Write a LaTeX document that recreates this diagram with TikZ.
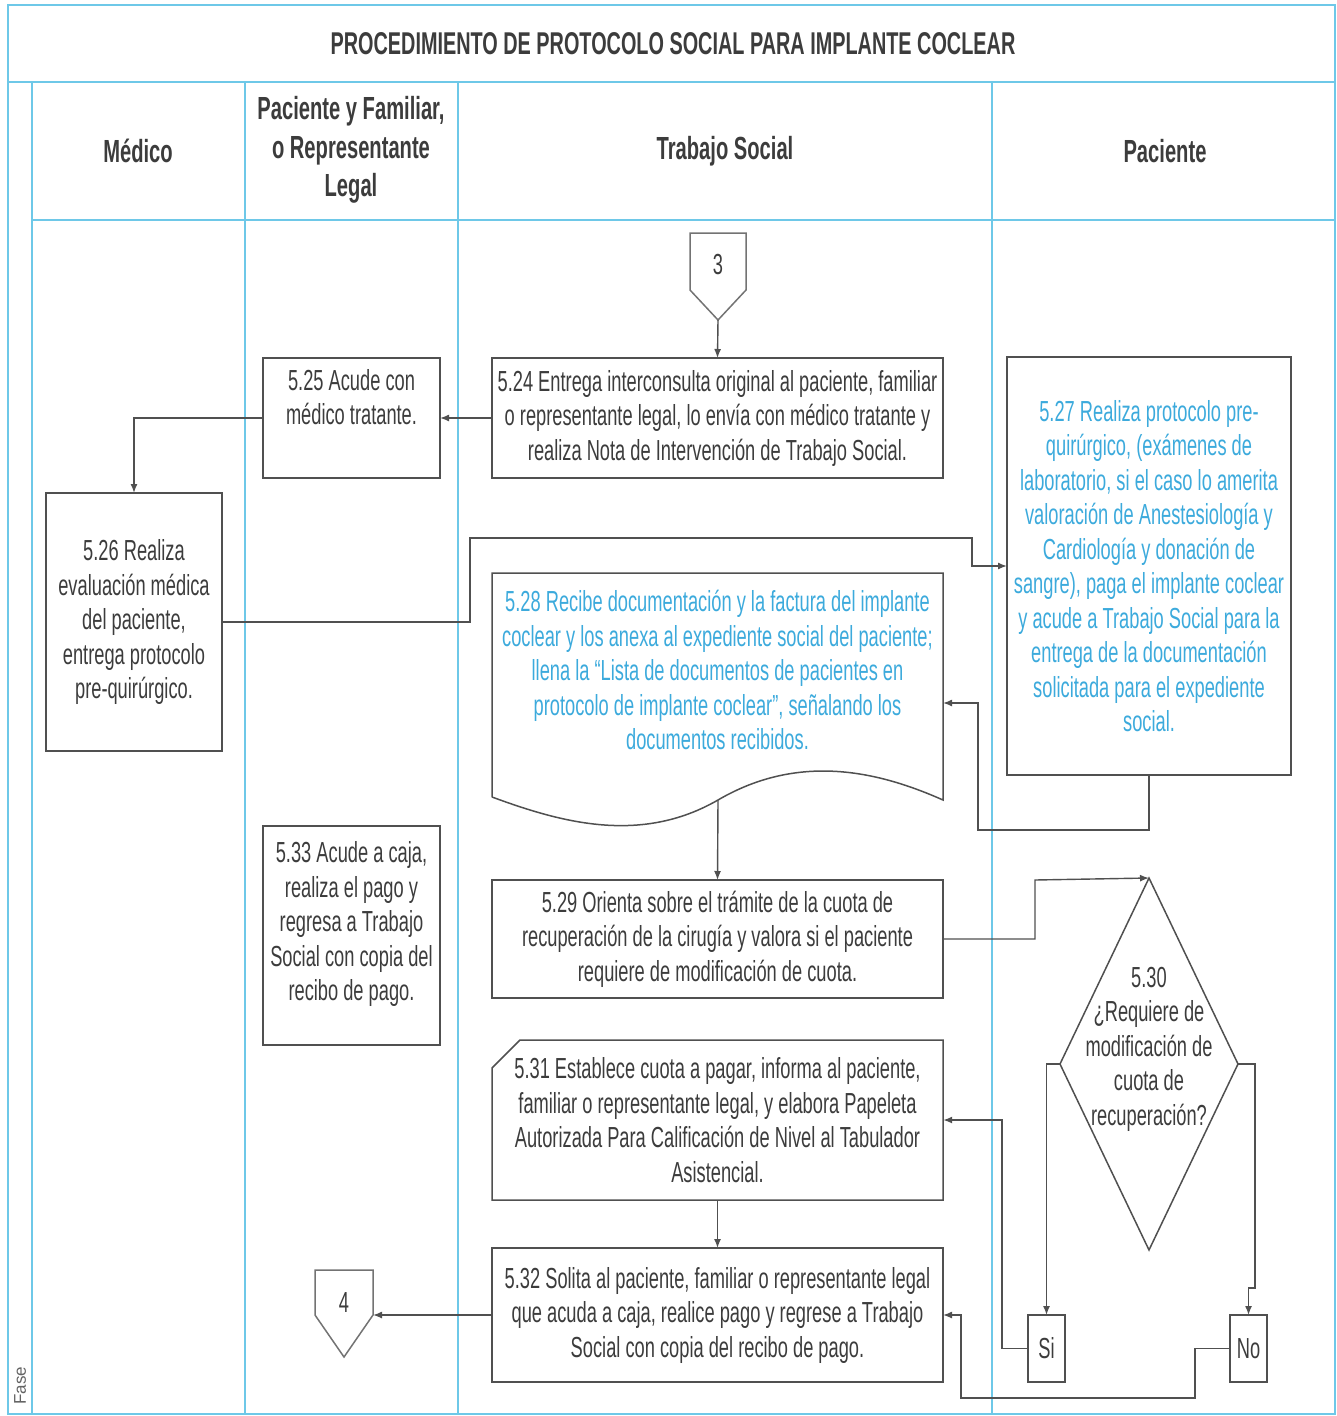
\documentclass[tikz,border=0pt]{standalone}
\usepackage{fontspec}
\setmainfont[FakeStretch=0.63]{Liberation Sans}
\newfontfamily\fasefont{Liberation Sans}
\usetikzlibrary{arrows.meta}
\definecolor{lane}{RGB}{110,200,232}
\definecolor{txt}{RGB}{60,60,60}
\definecolor{btxt}{RGB}{60,170,220}
\definecolor{edge}{RGB}{80,80,80}
\begin{document}
\begin{tikzpicture}[x=1pt,y=-1pt,
  lanel/.style={draw=lane,line width=1.3pt},
  box/.style={draw=edge,line width=1.5pt,rectangle,inner sep=0pt,outer sep=0pt,align=center,text=txt,font=\fontsize{29}{34.5}\selectfont},
  bbox/.style={box,text=btxt},
  shp/.style={draw=edge,line width=1.5pt},
  lbl/.style={inner sep=0pt,align=center,text=txt,font=\fontsize{29}{34.5}\selectfont},
  hdr/.style={inner sep=0pt,align=center,text=txt,font=\bfseries\fontsize{32}{38.5}\selectfont},
  arr/.style={draw=edge,line width=1.4pt,-{Latex[length=9pt,width=7pt]}},
  ln/.style={draw=edge,line width=1.4pt}]
\useasboundingbox (0,0) rectangle (1337,1416);
% frame and lanes
\draw[lanel] (8,5) -- (1335,5) -- (1335,1414) -- (8,1414) -- cycle;
\draw[lanel] (8,82) -- (1335,82);
\draw[lanel] (32,220) -- (1335,220);
\draw[lanel] (32,82) -- (32,1414);
\draw[lanel] (245,82) -- (245,1414);
\draw[lanel] (458,82) -- (458,1414);
\draw[lanel] (992,82) -- (992,1414);
\node[hdr,font=\bfseries\fontsize{31.5}{38}\selectfont] (title) at (673,44) {PROCEDIMIENTO DE PROTOCOLO SOCIAL PARA IMPLANTE COCLEAR};
\node[hdr] (hmed) at (138,151) {Médico};
\node[hdr] (hpf) at (351,150) {Paciente y Familiar,\\o Representante\\Legal};
\node[hdr] (hts) at (725,151) {Trabajo Social};
\node[hdr] (hpac) at (1165,151) {Paciente};
\node[inner sep=0pt,rotate=90,anchor=west,text=txt!80,font=\fasefont\fontsize{17}{20}\selectfont] (fase) at (20,1405) {Fase};

% connector 3
\draw[shp,draw=edge!80] (690,233) -- (746,233) -- (746,290) -- (718,320) -- (690,290) -- cycle;
\node[lbl] (c3) at (718,265) {3};
\coordinate (c3b) at (718,320);

% boxes
\node[box,minimum width=451,minimum height=120] (n524) at (717.5,418) {5.24 Entrega interconsulta original al paciente, familiar\\o representante legal, lo envía con médico tratante y\\realiza Nota de Intervención de Trabajo Social.};
\node[box,minimum width=177,minimum height=120] (n525) at (351.5,418) {};
\node[lbl] (t525) at (351.5,397) {5.25 Acude con\\médico tratante.};
\node[box,minimum width=176,minimum height=258] (n526) at (134,622) {5.26 Realiza\\evaluación médica\\del paciente,\\entrega protocolo\\pre-quirúrgico.};
\node[bbox,minimum width=284,minimum height=418] (n527) at (1149,566) {5.27 Realiza protocolo pre-\\quirúrgico, (exámenes de\\laboratorio, si el caso lo amerita\\valoración de Anestesiología y\\Cardiología y donación de\\sangre), paga el implante coclear\\y acude a Trabajo Social para la\\entrega de la documentación\\solicitada para el expediente\\social.};

% 5.28 document
\draw[shp] (492,797) -- (492,573) -- (943,573) -- (943,800)
  .. controls (880,772) and (800,752) .. (718,800)
  .. controls (640,845) and (560,822) .. (492,797);
\node[lbl,text=btxt] (n528) at (717.5,670) {5.28 Recibe documentación y la factura del implante\\coclear y los anexa al expediente social del paciente;\\llena la “Lista de documentos de pacientes en\\protocolo de implante coclear”, señalando los\\documentos recibidos.};
\coordinate (c528e) at (943,703);
\coordinate (c528b) at (718,800);

\node[box,minimum width=451,minimum height=118] (n529) at (717.5,939) {5.29 Orienta sobre el trámite de la cuota de\\recuperación de la cirugía y valora si el paciente\\requiere de modificación de cuota.};

% diamond 5.30
\draw[shp] (1149,878) -- (1238,1064) -- (1149,1250) -- (1060,1064) -- cycle;
\node[lbl] (n530) at (1149,1049) {5.30\\¿Requiere de\\modificación de\\cuota de\\recuperación?};
\coordinate (d530n) at (1149,878);
\coordinate (d530w) at (1060,1064);
\coordinate (d530e) at (1238,1064);

% 5.31 card
\draw[shp] (520,1040) -- (943,1040) -- (943,1200) -- (492,1200) -- (492,1068) -- cycle;
\node[lbl,minimum width=451,minimum height=160] (n531) at (717.5,1120) {5.31 Establece cuota a pagar, informa al paciente,\\familiar o representante legal, y elabora Papeleta\\Autorizada Para Calificación de Nivel al Tabulador\\Asistencial.};

\node[box,minimum width=451,minimum height=134] (n532) at (717.5,1315) {5.32 Solita al paciente, familiar o representante legal\\que acuda a caja, realice pago y regrese a Trabajo\\Social con copia del recibo de pago.};
\node[box,minimum width=177,minimum height=219] (n533) at (351.5,935.5) {};
\node[lbl] (t533) at (351.5,924) {5.33 Acude a caja,\\realiza el pago y\\regresa a Trabajo\\Social con copia del\\recibo de pago.};

\node[box,minimum width=37,minimum height=67] (nsi) at (1046.5,1348.5) {Si};
\node[box,minimum width=37,minimum height=67] (nno) at (1248.5,1348.5) {No};

% connector 4
\draw[shp,draw=edge!80] (315,1270) -- (373,1270) -- (373,1315) -- (344,1357) -- (315,1315) -- cycle;
\node[lbl] (c4) at (344,1303) {4};
\coordinate (c4e) at (373,1315);

% connectors
\draw[arr] (c3b) -- (n524.north);
\draw[arr] (n524.west) -- (n525.east);
\draw[arr] (n525.west) -| (n526.north);
\coordinate (k1) at (470,538);
\coordinate (k2) at (972,538);
\draw[arr] (n526.east) -| (k1) -- (k2) |- (n527.west);
\coordinate (k3) at (978,830);
\draw[arr] (n527.south) |- (k3) |- (c528e);
\draw[arr] (c528b) -- (n529.north);
\coordinate (k4) at (1035,880);
\draw[arr] (n529.east) -| (k4) -- (d530n);
\draw[arr] (d530w) -| (nsi.north);
\coordinate (k5) at (1255,1288);
\draw[arr] (d530e) -| (k5) -| (nno.north);
\coordinate (k6) at (1002,1120);
\draw[arr] (nsi.west) -| (k6) -- (n531.east);
\coordinate (k7) at (1195,1398);
\coordinate (k8) at (961,1315);
\draw[arr] (nno.west) -| (k7) -| (k8) -- (n532.east);
\draw[arr] (n531.south) -- (n532.north);
\draw[arr] (n532.west) -- (c4e);
\end{tikzpicture}
\end{document}
